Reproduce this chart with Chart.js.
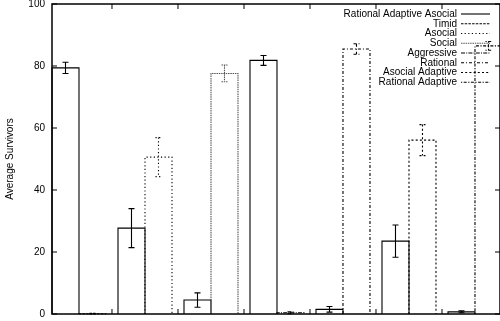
<!DOCTYPE html>
<html>
<head>
<meta charset="utf-8">
<script src="https://cdn.jsdelivr.net/npm/chart.js@4/dist/chart.umd.min.js"></script>
<style>
  html, body { margin: 0; padding: 0; background: #fff; }
  #wrap { width: 500px; height: 321px; }
</style>
</head>
<body>
<div id="wrap"><canvas id="myChart"></canvas></div>
<script>
// Rational Adaptive Asocial vs each opponent type (one pair of bars per opponent)
const opponents = ['Timid', 'Asocial', 'Social', 'Aggressive', 'Rational', 'Asocial Adaptive', 'Rational Adaptive'];
const raaVals = [79.4, 27.7, 4.5, 81.8, 1.5, 23.5, 0.7];
const raaErr  = [1.8, 6.3, 2.3, 1.6, 0.9, 5.2, 0.3];
const oppVals = [0.1, 50.6, 77.6, 0.4, 85.5, 56.1, 86.5];
const oppErr  = [0.1, 6.3, 2.7, 0.3, 1.7, 5.0, 1.4];
const yTicks  = [0, 20, 40, 60, 80, 100];

// line styles like gnuplot's postscript terminal
const dashes = [[], [2.5, 1.2], [1.2, 2.4], [1.5, 0.8], [4, 1.2, 1, 1.2], [3, 2, 1, 2], [2, 2.2], [1.2, 1.5, 3, 1.5]];
const colors = ['#000', '#000', '#000', '#555', '#000', '#000', '#000', '#000'];

const ctx = document.getElementById('myChart');

let datasets = [{
    label: 'Rational Adaptive Asocial',
    data: raaVals.map((v, i) => ({x: i, y: v})),
    err: raaErr,
    stack: 'a'
}];
opponents.forEach((name, i) => {
    datasets.push({
        label: name,
        data: [{x: i, y: oppVals[i]}],
        err: [oppErr[i]],
        stack: 'b'
    });
});
datasets.forEach((ds, k) => {
    ds.backgroundColor = 'rgba(0,0,0,0)';
    ds.borderWidth = 0;
    ds.borderDash = dashes[k];
    ds.lineColor = colors[k];
});

const gnuplotLook = {
    id: 'gnuplotLook',
    afterDatasetsDraw(chart) {
        const c = chart.ctx;
        const area = chart.chartArea;
        const xs = chart.scales.x, ys = chart.scales.y;
        c.save();
        // bars + error bars
        chart.data.datasets.forEach((ds, d) => {
            const meta = chart.getDatasetMeta(d);
            meta.data.forEach((el, j) => {
                const w = el.width / 2;
                c.strokeStyle = ds.lineColor;
                c.lineWidth = 1.1;
                c.setLineDash(ds.borderDash);
                c.beginPath();
                c.moveTo(el.x - w, el.base);
                c.lineTo(el.x - w, el.y);
                c.lineTo(el.x + w, el.y);
                c.lineTo(el.x + w, el.base);
                c.stroke();
                const v = ds.data[j].y, e = ds.err[j];
                const yt = ys.getPixelForValue(v + e), yb = ys.getPixelForValue(Math.max(0, v - e));
                c.beginPath();
                c.moveTo(el.x, yt); c.lineTo(el.x, yb);
                c.moveTo(el.x - 3, yt); c.lineTo(el.x + 3, yt);
                c.moveTo(el.x - 3, yb); c.lineTo(el.x + 3, yb);
                c.stroke();
            });
        });
        c.setLineDash([]);
        // border box
        c.strokeStyle = '#000';
        c.lineWidth = 1.5;
        c.strokeRect(area.left, area.top, area.right - area.left, area.bottom - area.top);
        // inward ticks
        c.lineWidth = 1;
        c.beginPath();
        yTicks.forEach(t => {
            const y = ys.getPixelForValue(t);
            c.moveTo(area.left, y); c.lineTo(area.left + 5, y);
            c.moveTo(area.right, y); c.lineTo(area.right - 5, y);
        });
        for (let i = 0; i < opponents.length; i++) {
            const x = xs.getPixelForValue(i + 0.5);
            if (x > area.right) continue;
            c.moveTo(x, area.bottom); c.lineTo(x, area.bottom - 5);
            c.moveTo(x, area.top); c.lineTo(x, area.top + 5);
        }
        c.stroke();
        // key, text right aligned with sample after it
        c.font = '10px "Liberation Sans", Arial, sans-serif';
        c.textAlign = 'right';
        c.textBaseline = 'middle';
        chart.data.datasets.forEach((ds, k) => {
            const y = 14 + k * 9.75;
            c.fillStyle = '#000';
            c.fillText(ds.label, 457, y);
            c.strokeStyle = ds.lineColor;
            c.lineWidth = 1.1;
            c.setLineDash(ds.borderDash);
            c.beginPath();
            c.moveTo(461, y); c.lineTo(490, y);
            c.stroke();
        });
        c.restore();
    }
};

new Chart(ctx, {
    type: 'bar',
    data: { datasets: datasets },
    options: {
        responsive: true,
        maintainAspectRatio: false,
        animation: false,
        layout: { padding: { top: 4, right: 0, bottom: 7, left: 0 } },
        categoryPercentage: 0.818,
        barPercentage: 1.0,
        plugins: {
            legend: { display: false },
            tooltip: { enabled: false }
        },
        scales: {
            x: {
                type: 'linear',
                stacked: true,
                offset: false,
                min: -0.409,
                max: 6.379,
                display: false,
                afterBuildTicks(scale) {
                    scale.ticks = opponents.map((o, i) => ({ value: i }));
                }
            },
            y: {
                min: 0,
                max: 100,
                grid: { display: false, drawTicks: false },
                border: { display: false },
                ticks: {
                    stepSize: 20,
                    padding: 7,
                    color: '#000',
                    font: { family: '"Liberation Sans", Arial, sans-serif', size: 10 }
                },
                title: {
                    display: true,
                    text: 'Average Survivors',
                    color: '#000',
                    padding: 4,
                    font: { family: '"Liberation Sans", Arial, sans-serif', size: 10 }
                },
                afterFit(scale) {
                    scale.width = 52;
                    scale.paddingTop = 0;
                    scale.paddingBottom = 0;
                }
            }
        }
    },
    plugins: [gnuplotLook]
});
</script>
</body>
</html>
